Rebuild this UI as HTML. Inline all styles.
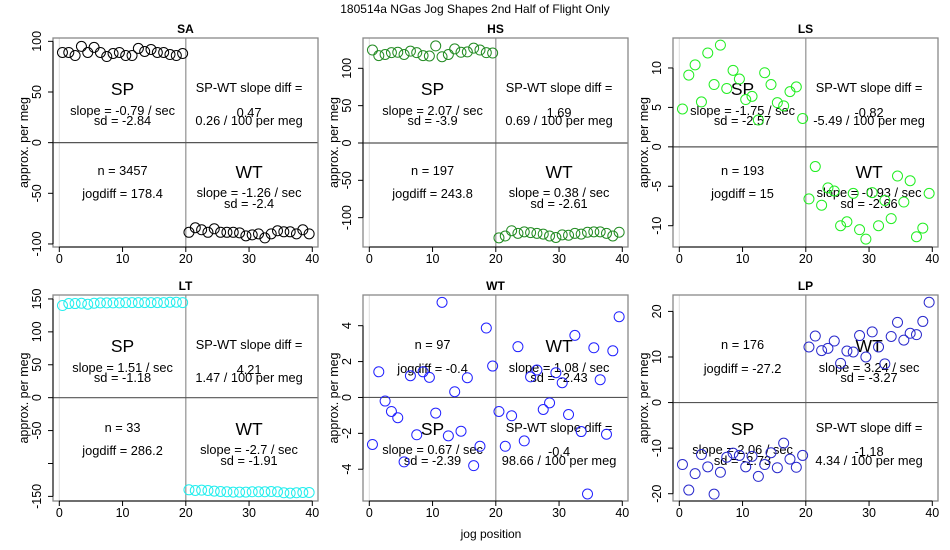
<!DOCTYPE html>
<html><head><meta charset="utf-8"><style>
html,body{margin:0;padding:0;background:#fff;}
svg{display:block;font-family:"Liberation Sans",Arial,sans-serif;}
</style></head><body>
<svg id="chart" width="950" height="550" viewBox="0 0 950 550" xmlns="http://www.w3.org/2000/svg">
<text x="475" y="13" text-anchor="middle" font-size="12">180514a   NGas Jog Shapes 2nd Half of Flight Only</text>
<text x="491" y="538" text-anchor="middle" font-size="12">jog position</text>
</svg>
<script>
const panelNames = ["SA","HS","LS","LT","WT","LP"];
const panelColors = ["#000000","#228b22","#22ee22","#22eeee","#2222ff","#2a2acc"];
const yRanges = [[-103,103.3],[-139.3,140.6],[-12.7,13.8],[-157,156],[-5.77,5.71],[-21.6,23.6]];
const yTicks = [[-100,-50,0,50,100],[-100,-50,0,50,100],[-10,-5,0,5,10],[-150,-100,-50,0,50,100,150],[-4,-2,0,2,4],[-20,-10,0,10,20]];
const yTickLabels = [["-100","-50","0","50","100"],["-100","-50","0","50","100"],["-10","-5","0","5","10"],["-150","","-50","0","50","100","150"],["-4","-2","0","2","4"],["-20","-10","0","10","20"]];
const xTicks = [0,10,20,30,40];
const spPositions = [0.5,1.5,2.5,3.5,4.5,5.5,6.5,7.5,8.5,9.5,10.5,11.5,12.5,13.5,14.5,15.5,16.5,17.5,18.5,19.5];
const wtPositions = [20.5,21.5,22.5,23.5,24.5,25.5,26.5,27.5,28.5,29.5,30.5,31.5,32.5,33.5,34.5,35.5,36.5,37.5,38.5,39.5];
const saSP = [89,89,86,95,89,94,89,85,88,89,86,86,93,90,92,89,89,87,86,88];
const saWT = [-88.5,-84,-86,-88.5,-85,-88.5,-88.5,-88.5,-89,-92,-91,-90,-94,-90,-87,-88,-88,-90,-86,-90];
const hsSP = [124.5,117,118.5,121,121.5,118.5,123,121,117,116.5,130,115.5,118.5,126,121.5,122,127,124.5,121,120.5];
const hsWT = [-127,-124.5,-117.5,-121,-119,-120,-121,-122,-124.5,-126.5,-123,-123.5,-121,-122,-119.5,-119,-119,-121,-124.5,-119.5];
const lsSP = [4.8,9.1,10.4,5.7,11.9,7.9,12.9,7.4,9.7,8.6,6.0,6.4,3.4,9.4,7.9,5.6,5.2,7.0,7.6,3.6];
const lsWT = [-6.6,-2.5,-7.4,-5.2,-5.6,-10,-9.5,-5.9,-10.5,-11.7,-5.8,-10,-6.8,-9.1,-3.7,-7.0,-4.3,-11.4,-10.3,-5.9];
const ltSP = [140,143,143,143.5,142,143.5,144,144,144,144,144.5,144.5,144.5,144.5,144.5,144.5,144.5,145,145,144.5];
const ltWT = [-140,-141,-140.5,-141,-142,-142.5,-143,-143.5,-143.5,-143.5,-143,-143,-143,-142.5,-143,-144.5,-145,-144.5,-144,-144];
const wtSP = [-2.62,1.43,-0.2,-0.78,-1.13,-3.59,1.21,-2.08,1.43,1.12,-0.87,5.3,-2.14,0.32,-1.88,1.1,-3.8,-2.72,3.87,1.75];
const wtWT = [-0.78,-2.72,-1.02,2.83,-2.42,1.15,1.53,-0.67,-0.3,1.38,0.82,-0.95,3.46,-1.9,-5.38,2.77,0.99,-2.05,2.6,4.5];
const lpSP = [-13.6,-19.2,-15.6,-11.4,-14.1,-20.1,-15.3,-12.0,-11.1,-11.6,-14.1,-11.8,-16.2,-13.6,-11.0,-14.3,-8.9,-12.4,-14.2,-11.6];
const lpWT = [12.2,14.6,11.4,11.9,13.5,8.6,11.3,11.1,14.7,10.0,15.5,12.2,8.5,14.5,17.6,13.7,15.2,14.9,17.8,22.0];
const spSeries = [saSP,hsSP,lsSP,ltSP,wtSP,lpSP];
const wtSeries = [saWT,hsWT,lsWT,ltWT,wtWT,lpWT];
const spSlopes = ["-0.79","2.07","-1.75","1.51","0.67","2.06"];
const spSds = ["-2.84","-3.9","-2.57","-1.18","-2.39","-2.73"];
const wtSlopes = ["-1.26","0.38","-0.93","-2.7","1.08","3.24"];
const wtSds = ["-2.4","-2.61","-2.66","-1.91","-2.43","-3.27"];
const diffValues = ["0.47","1.69","-0.82","4.21","-0.4","-1.18"];
const diffPer100 = ["0.26","0.69","-5.49","1.47","98.66","4.34"];
const nValues = ["3457","197","193","33","97","176"];
const jogdiffs = ["178.4","243.8","15","286.2","-0.4","-27.2"];
const flipped = [false,false,false,false,true,true];

const NS = "http://www.w3.org/2000/svg";
const svg = document.getElementById("chart");
function mk(tag, attrs, parent, txt){
  const e = document.createElementNS(NS, tag);
  for (const k in attrs) e.setAttribute(k, attrs[k]);
  if (txt !== undefined) e.textContent = txt;
  parent.appendChild(e);
  return e;
}
for (let p = 0; p < 6; p++) {
  const col = p % 3, row = Math.floor(p / 3);
  const L = 53 + 310 * col, R = L + 265;
  const T = row === 0 ? 38 : 295, B = row === 0 ? 247 : 501;
  const [y0, y1] = yRanges[p];
  const X = v => L + 6.3 + v * 6.325;
  const Y = v => B - (v - y0) / (y1 - y0) * (B - T);
  const g = mk("g", {}, svg);
  
  
  const t = mk("text", {x:(L+R)/2, y:T-5, "text-anchor":"middle", "font-size":"12", "font-weight":"bold"}, g, panelNames[p]);
  
  
  mk("line", {x1:X(0), x2:X(0), y1:T, y2:B, stroke:"#dddddd", "stroke-width":"1"}, g);
  const vl = mk("line", {x1:X(20), x2:X(20), y1:T, y2:B, stroke:"#999999", "stroke-width":"1.3"}, g);
  
  
  const hl = mk("line", {x1:L, x2:R, y1:Y(0), y2:Y(0), stroke:"#555555", "stroke-width":"1.2"}, g);
  
  
  mk("rect", {x:L, y:T, width:R-L, height:B-T, fill:"none", stroke:"#888888", "stroke-width":"1.3"}, g);
  const xa = mk("g", {}, g);
  
  
  mk("line", {x1:X(0), x2:X(40), y1:B, y2:B, stroke:"#000"}, xa);
  xTicks.forEach(v => {
    mk("line", {x1:X(v), x2:X(v), y1:B, y2:B+5, stroke:"#000"}, xa);
    mk("text", {x:X(v), y:B+16, "text-anchor":"middle", "font-size":"12.5"}, xa, String(v));
  });
  const ya = mk("g", {}, g);
  
  
  const tk = yTicks[p];
  mk("line", {x1:L, x2:L, y1:Y(tk[0]), y2:Y(tk[tk.length-1]), stroke:"#000"}, ya);
  tk.forEach((v, i) => {
    mk("line", {x1:L-5, x2:L, y1:Y(v), y2:Y(v), stroke:"#000"}, ya);
    if (yTickLabels[p][i]) mk("text", {x:L-12, y:Y(v), "text-anchor":"middle", "font-size":"12.5", transform:`rotate(-90 ${L-12} ${Y(v)})`}, ya, yTickLabels[p][i]);
  });
  const yt = mk("text", {x:L-25, y:(T+B)/2, "text-anchor":"middle", "font-size":"12.5", transform:`rotate(-90 ${L-25} ${(T+B)/2})`}, g, "approx. per meg");
  
  
  const up = [T+57, T+77, T+87], lo = [T+140, T+159, T+170];
  const spRow = flipped[p] ? lo : up, nRow = flipped[p] ? up : lo;
  const diffRow = flipped[p] ? lo : up, wtRow = flipped[p] ? up : lo;
  const cxL = X(10), cxR = X(30);
  const ann = mk("g", {"font-size":"12.8", "text-anchor":"middle"}, g);
  
  
  mk("text", {x:cxL, y:spRow[0], "font-size":"17.5"}, ann, "SP");
  mk("text", {x:cxL, y:spRow[1]}, ann, "slope = " + spSlopes[p] + " / sec");
  mk("text", {x:cxL, y:spRow[2]}, ann, "sd = " + spSds[p]);
  mk("text", {x:cxR, y:diffRow[0]-3}, ann, "SP-WT slope diff =");
  mk("text", {x:cxR, y:diffRow[1]+2}, ann, diffValues[p]);
  mk("text", {x:cxR, y:diffRow[2]}, ann, diffPer100[p] + " / 100 per meg");
  mk("text", {x:cxL, y:nRow[0]-3}, ann, "n = " + nValues[p]);
  mk("text", {x:cxL, y:nRow[1]+1}, ann, "jogdiff = " + jogdiffs[p]);
  mk("text", {x:cxR, y:wtRow[0], "font-size":"17.5"}, ann, "WT");
  mk("text", {x:cxR, y:wtRow[1]}, ann, "slope = " + wtSlopes[p] + " / sec");
  mk("text", {x:cxR, y:wtRow[2]}, ann, "sd = " + wtSds[p]);
  const pts = mk("g", {fill:"none", stroke:panelColors[p], "stroke-width":"1"}, g);
  
  
  spSeries[p].forEach((v, i) => {
    const c = mk("circle", {cx:X(spPositions[i]), cy:Y(v), r:"5"}, pts);
    
    
  });
  wtSeries[p].forEach((v, i) => {
    const c = mk("circle", {cx:X(wtPositions[i]), cy:Y(v), r:"5"}, pts);
    
    
  });
}
</script>
</body></html>
